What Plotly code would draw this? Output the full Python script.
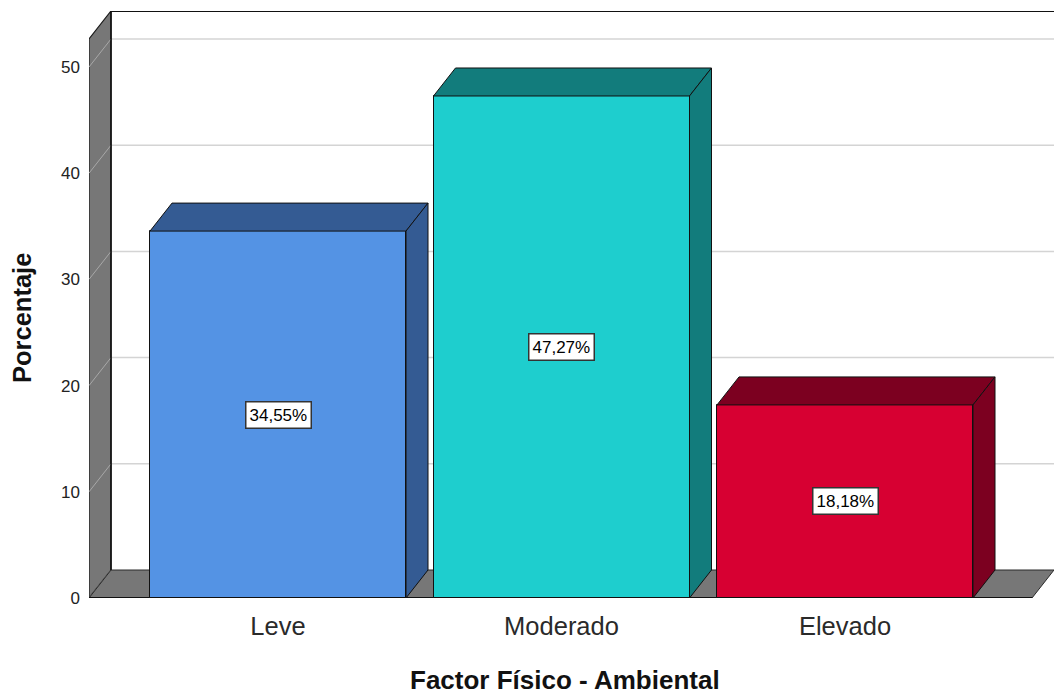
import plotly.graph_objects as go

# ---- data ----
categories = ["Leve", "Moderado", "Elevado"]
percentages = [34.55, 47.27, 18.18]
front_colors = ["#5493E4", "#1ECECE", "#D70032"]
dark_colors = ["#345B93", "#127C7C", "#7C0020"]
y_ticks = [0, 10, 20, 30, 40, 50]
x_title = "Factor Físico - Ambiental"
y_title = "Porcentaje"

# ---- geometry (axis units) ----
W, H = 1054, 697
ml, mr, mt, mb = 89, 0, 11, 99
px_per_y = 10.62
px_per_x = 283.5
plot_w = W - ml - mr
plot_h = H - mt - mb
x_lo = -189 / px_per_x
x_hi = x_lo + plot_w / px_per_x
y_hi = plot_h / px_per_y
dx = 22 / px_per_x
dy = 28 / px_per_y
wall_top = y_hi - dy
bar_w = 256 / px_per_x
floor_right = x_hi - dx

FONT = "Liberation Sans, Arial, sans-serif"

fig = go.Figure()

shapes = []
def path(pts):
    return "M " + " L ".join(f"{x},{y}" for x, y in pts) + " Z"

# back wall gridlines
for v in y_ticks[1:]:
    shapes.append(dict(type="line", xref="x", yref="y", x0=x_lo + dx, x1=x_hi,
                       y0=v + dy, y1=v + dy, line=dict(color="#D4D4D4", width=1.5),
                       layer="below"))
# left wall
shapes.append(dict(type="path", xref="x", yref="y",
                   path=path([(x_lo, 0), (x_lo, wall_top), (x_lo + dx, wall_top + dy), (x_lo + dx, dy)]),
                   fillcolor="#777777", line=dict(color="#1A1A1A", width=1.2), layer="below"))
# wall gridline diagonals
for v in y_ticks:
    shapes.append(dict(type="line", xref="x", yref="y", x0=x_lo, x1=x_lo + dx,
                       y0=v, y1=v + dy, line=dict(color="#A8A8A8", width=1), layer="below"))
# floor
shapes.append(dict(type="path", xref="x", yref="y",
                   path=path([(x_lo, 0), (floor_right, 0), (x_hi, dy), (x_lo + dx, dy)]),
                   fillcolor="#777777", line=dict(color="#2A2A2A", width=1), layer="below"))
shapes.append(dict(type="line", xref="x", yref="y", x0=x_lo, x1=floor_right, y0=0, y1=0,
                   line=dict(color="#111111", width=2), layer="below"))
# back wall frame
shapes.append(dict(type="line", xref="x", yref="y", x0=x_lo + dx, x1=x_hi,
                   y0=wall_top + dy, y1=wall_top + dy, line=dict(color="#111111", width=2), layer="below"))
shapes.append(dict(type="line", xref="x", yref="y", x0=x_lo + dx, x1=x_lo + dx,
                   y0=dy, y1=wall_top + dy, line=dict(color="#111111", width=1.5), layer="below"))

# bars: front faces
fig.add_trace(go.Bar(x=list(range(len(categories))), y=percentages, width=bar_w,
                     marker=dict(color=front_colors, line=dict(color="#111111", width=1)),
                     hoverinfo="skip", showlegend=False))

# bar tops and sides
for i, (v, dc) in enumerate(zip(percentages, dark_colors)):
    x0, x1 = i - bar_w / 2, i + bar_w / 2
    shapes.append(dict(type="path", xref="x", yref="y",
                       path=path([(x0, v), (x0 + dx, v + dy), (x1 + dx, v + dy), (x1, v)]),
                       fillcolor=dc, line=dict(color="#111111", width=1), layer="above"))
    shapes.append(dict(type="path", xref="x", yref="y",
                       path=path([(x1, 0), (x1, v), (x1 + dx, v + dy), (x1 + dx, dy)]),
                       fillcolor=dc, line=dict(color="#111111", width=1), layer="above"))

annotations = []
for i, v in enumerate(percentages):
    annotations.append(dict(x=i, y=v / 2, xref="x", yref="y", showarrow=False,
                            text=f"{v:.2f}".replace(".", ",") + "%",
                            font=dict(family=FONT, size=17, color="#000000"),
                            bgcolor="#FFFFFF", bordercolor="#333333", borderwidth=1.5, borderpad=3))
annotations.append(dict(x=(565 - ml) / plot_w, y=(mt + plot_h - 680) / plot_h, xref="paper", yref="paper",
                        showarrow=False, text=f"<b>{x_title}</b>",
                        font=dict(family=FONT, size=26, color="#111111"), borderpad=0,
                        xanchor="center", yanchor="middle"))
annotations.append(dict(x=(22 - ml) / plot_w, y=(mt + plot_h - 318) / plot_h, xref="paper", yref="paper",
                        showarrow=False, text=f"<b>{y_title}</b>", textangle=-90,
                        font=dict(family=FONT, size=25.5, color="#111111"),
                        xanchor="center", yanchor="middle"))

fig.update_layout(
    width=W, height=H,
    margin=dict(l=ml, r=mr, t=mt, b=mb, pad=0),
    paper_bgcolor="white", plot_bgcolor="white",
    shapes=shapes, annotations=annotations,
    bargap=0,
    xaxis=dict(range=[x_lo, x_hi], tickvals=list(range(len(categories))), ticktext=categories,
               showgrid=False, zeroline=False, showline=False, ticks="",
               tickfont=dict(family=FONT, size=25.5, color="#2A2A2A"), ticklabelstandoff=10,
               fixedrange=True),
    yaxis=dict(range=[0, y_hi], tickvals=y_ticks, showgrid=False, zeroline=False, showline=False,
               ticks="", tickfont=dict(family=FONT, size=17, color="#222222"), ticklabelstandoff=8,
               fixedrange=True),
)

fig.write_html("out.html", config={"displayModeBar": False})
